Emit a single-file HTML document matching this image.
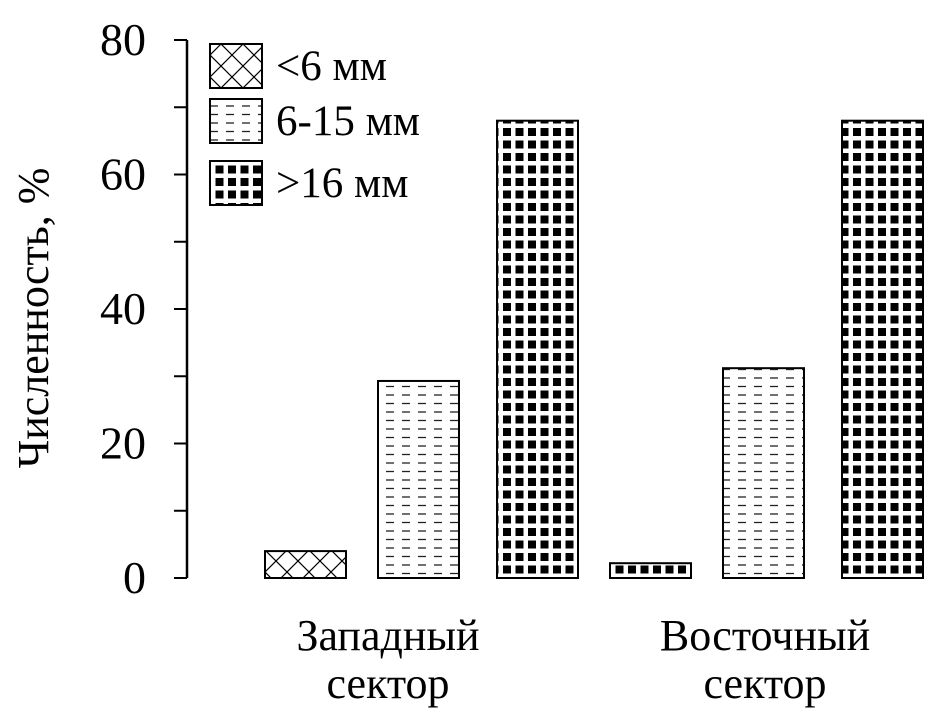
<!DOCTYPE html>
<html><head><meta charset="utf-8"><style>
html,body{margin:0;padding:0;background:#fff}
svg text{font-family:"Liberation Serif",serif;fill:#000}
</style></head><body>
<svg id="chart" width="947" height="716" viewBox="0 0 947 716" xmlns="http://www.w3.org/2000/svg">
<defs>
<pattern id="pCross" patternUnits="userSpaceOnUse" width="22" height="22" x="265" y="0">
<path d="M0,0L22,22M22,0L0,22" stroke="#000" stroke-width="1.2"/>
</pattern>
<pattern id="pDash" patternUnits="userSpaceOnUse" width="16" height="8.5" x="0" y="0">
<line x1="2" y1="4" x2="10" y2="4" stroke="#222" stroke-width="1.3"/>
</pattern>
<pattern id="pSquare" patternUnits="userSpaceOnUse" width="12.5" height="12.5" x="0" y="0">
<rect x="3" y="3" width="8" height="8" fill="#000"/>
</pattern>
</defs>
<g id="axis"></g>
<g id="bars"></g>
<g id="legend"></g>
<text transform="translate(48,318) rotate(-90)" text-anchor="middle" font-size="44">Численность, %</text>
</svg>
<script>
const categories = ["Западный сектор", "Восточный сектор"];
const series = ["<6 мм", "6-15 мм", ">16 мм"];
const small = [4, 2.2];
const medium = [29.3, 31.2];
const large = [68, 68];
const yTicks = [0, 20, 40, 60, 80];

const NS = "http://www.w3.org/2000/svg";
function mk(tag, attrs, parent){const e=document.createElementNS(NS,tag);for(const k in attrs)e.setAttribute(k,attrs[k]);parent.appendChild(e);return e;}
const y0 = 578, pxPer = 6.725;
const yS = v => y0 - v * pxPer;
const axisX = 187;
const ax = document.getElementById('axis');
const axLine = mk('line',{x1:axisX,y1:yS(80),x2:axisX,y2:yS(0),stroke:'#000','stroke-width':2.5},ax);


for(let v=0; v<=80; v+=10){
  const t = mk('line',{x1:axisX-13,y1:yS(v),x2:axisX,y2:yS(v),stroke:'#000','stroke-width':2},ax);
  
  
}
yTicks.forEach(v=>{
  const t = mk('text',{x:146,y:yS(v)+15,'text-anchor':'end','font-size':46},ax);
  t.textContent = v;
  
  
});
const fills = ['url(#pCross)','url(#pDash)','url(#pSquare)'];
const groupStart = [265, 610];
const labelCenter = [388, 765];
const offs = [0, 113, 232];
const vals = [small, medium, large];
const bg = document.getElementById('bars');
categories.forEach((c,ci)=>{
  vals.forEach((arr,si)=>{
    const x = groupStart[ci] + offs[si];
    const v = arr[ci];
    const fill = (ci===1 && si===0) ? fills[2] : fills[si];
    const b = mk('rect',{x:x,y:yS(v),width:81,height:v*pxPer,fill:fill,stroke:'#000','stroke-width':2},bg);
    
    
  });
  const cx = labelCenter[ci];
  const words = c.split(' ');
  words.forEach((w,wi)=>{
    const t = mk('text',{x:cx,y:650+wi*48,'text-anchor':'middle','font-size':44},bg);
    t.textContent = w;
    
    
  });
});
const lg = document.getElementById('legend');
const legY = [44, 99, 161];
series.forEach((s,i)=>{
  const r = mk('rect',{x:210,y:legY[i],width:52,height:44,fill:fills[i],stroke:'#000','stroke-width':2},lg);
  
  
  const t = mk('text',{x:276,y:legY[i]+36,'font-size':43},lg);
  t.textContent = s;
  
  
});
</script>
</body></html>
